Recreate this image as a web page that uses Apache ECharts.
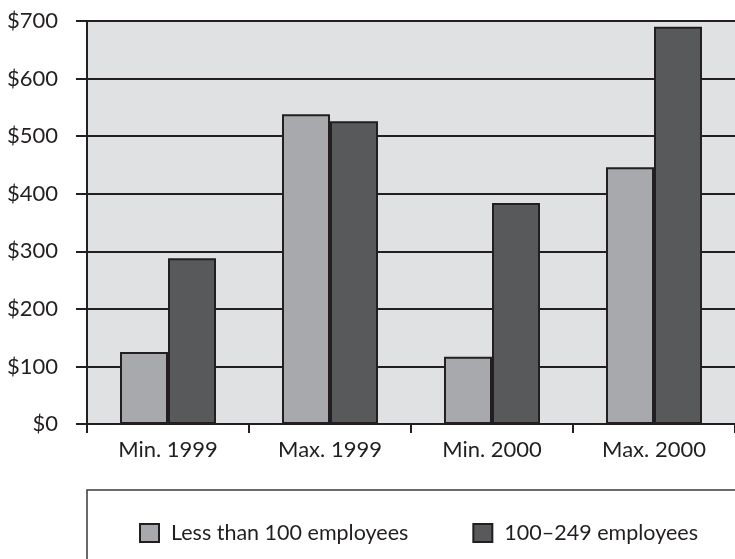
<!DOCTYPE html>
<html>
<head>
<meta charset="utf-8">
<script src="https://cdn.jsdelivr.net/npm/echarts@6/dist/echarts.min.js"></script>
<style>
html, body { margin: 0; padding: 0; background: #fff; }
#chart { width: 735px; height: 559px; }
</style>
</head>
<body>
<div id="chart"></div>
<script>
// categories and values
var categories = ["Min. 1999", "Max. 1999", "Min. 2000", "Max. 2000"];
var seriesNames = ["Less than 100 employees", "100\u2013249 employees"];
var small = [125, 538, 117, 446];
var medium = [288, 526, 384, 690];
var yTicks = [0, 700, 100]; // min, max, step

var ink = "#231f20";
var font = "Lato";

var chart = echarts.init(document.getElementById("chart"));
chart.setOption({
    animation: false,
    textStyle: { fontFamily: font },
    grid: {
        left: 87,
        right: 0,
        top: 21,
        bottom: 135,
        show: true,
        backgroundColor: "#e0e1e3",
        borderWidth: 0
    },
    // frame round the legend
    graphic: [
        {
            type: "rect",
            shape: { x: 87, y: 490, width: 700, height: 100 },
            style: { fill: "#fff", stroke: "#3a3a3a", lineWidth: 1.5 },
            z: 0
        }
    ],
    legend: {
        left: 134,
        top: 517,
        itemWidth: 19,
        itemHeight: 18,
        itemGap: 64,
        icon: "rect",
        textStyle: {
            fontFamily: font,
            fontSize: 21.5,
            color: ink,
            padding: [0, 0, 0, 7]
        },
        data: seriesNames
    },
    xAxis: {
        type: "category",
        data: categories,
        axisLine: { lineStyle: { color: ink, width: 2 } },
        axisTick: { show: true, length: 9, lineStyle: { color: ink, width: 2 } },
        axisLabel: { margin: 15, fontSize: 22, color: ink, fontFamily: font }
    },
    yAxis: {
        type: "value",
        min: yTicks[0],
        max: yTicks[1],
        interval: yTicks[2],
        axisLine: { show: true, lineStyle: { color: ink, width: 2 } },
        axisTick: { show: true, length: 11, lineStyle: { color: ink, width: 2 } },
        splitLine: { lineStyle: { color: ink, width: 2 } },
        axisLabel: {
            margin: 29,
            fontSize: 22,
            color: ink,
            fontFamily: font,
            formatter: function (v) { return "$" + v; }
        }
    },
    series: [
        {
            name: seriesNames[0],
            type: "bar",
            data: small,
            barWidth: 48,
            barGap: "0%",
            itemStyle: { color: "#a8a9ac", borderColor: ink, borderWidth: 2 }
        },
        {
            name: seriesNames[1],
            type: "bar",
            data: medium,
            barWidth: 48,
            itemStyle: { color: "#58595b", borderColor: ink, borderWidth: 2 }
        }
    ]
});
</script>
</body>
</html>
